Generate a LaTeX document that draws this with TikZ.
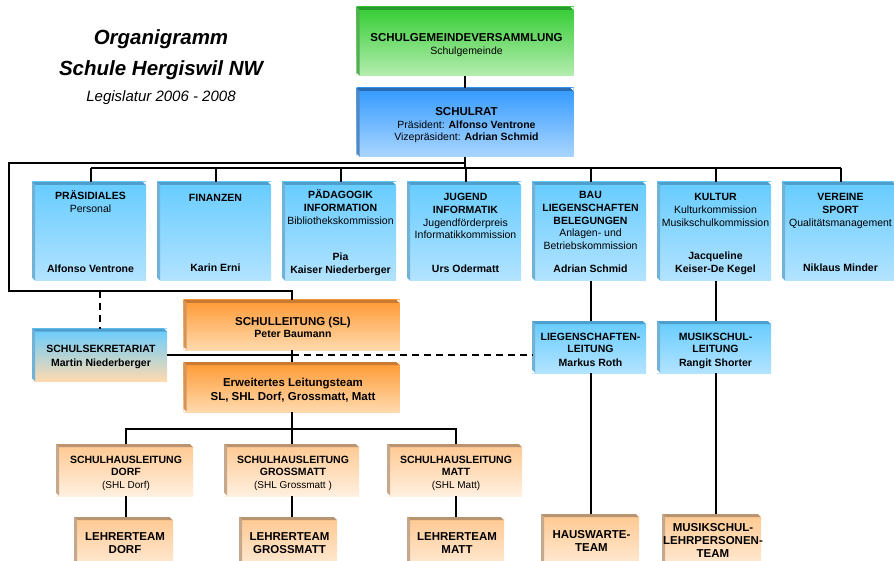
\documentclass[tikz,border=0pt]{standalone}
\usepackage{fontspec}
\setmainfont{Liberation Sans}
\usetikzlibrary{calc}
\newcommand{\tl}[1]{\begin{tabular}[t]{@{}c@{}}#1\end{tabular}}
\newcommand{\fs}[2]{\fontsize{#1}{#2}\selectfont}
\definecolor{gTop}{HTML}{33CC33}
\definecolor{gBot}{HTML}{B5EDB0}
\definecolor{gBev}{HTML}{2A9A2A}
\definecolor{rTop}{HTML}{3399FF}
\definecolor{rBot}{HTML}{AAD6FF}
\definecolor{rBev}{HTML}{2A6AB0}
\definecolor{dTop}{HTML}{66CCFF}
\definecolor{dBot}{HTML}{B3E3FF}
\definecolor{dBev}{HTML}{4F9FCC}
\definecolor{oTop}{HTML}{FF9933}
\definecolor{oBot}{HTML}{FFDAAE}
\definecolor{oBev}{HTML}{C97B33}
\definecolor{pTop}{HTML}{FFC890}
\definecolor{pBot}{HTML}{FFF0E0}
\definecolor{pBev}{HTML}{B89470}
\begin{document}
\begin{tikzpicture}[x=1pt,y=-1pt,
  boxbase/.style={inner sep=0pt,outer sep=0pt},
  greenbox/.style={boxbase,top color=gTop,bottom color=gBot},
  ratbox/.style={boxbase,top color=rTop,bottom color=rBot},
  deptbox/.style={boxbase,top color=dTop,bottom color=dBot,minimum width=114pt},
  orangebox/.style={boxbase,top color=oTop,bottom color=oBot},
  peachbox/.style={boxbase,top color=pTop,bottom color=pBot},
  sekbox/.style={boxbase,top color=dTop,bottom color=oBot},
  tx/.style={anchor=base,inner sep=0pt,font=\fs{10.5}{12.6}},
  txl/.style={anchor=base,inner sep=0pt,font=\fs{11.5}{13}\bfseries},
  ln/.style={line width=2pt},
  dsh/.style={line width=2pt,dash pattern=on 7pt off 5pt}
]
\useasboundingbox (0,0) rectangle (894,561);
\clip (0,0) rectangle (894,561);

% title
\node[anchor=base,inner sep=0pt,font=\fs{20.5}{24}\bfseries\itshape] (t1) at (161,45) {Organigramm};
\node[anchor=base,inner sep=0pt,font=\fs{20.5}{24}\bfseries\itshape] (t2) at (161,76) {Schule Hergiswil NW};
\node[anchor=base,inner sep=0pt,font=\fs{15}{18}\itshape] (t3) at (161,102) {Legislatur 2006 - 2008};

% boxes
\node[greenbox,minimum width=217pt,minimum height=69pt] (sgv) at (465,41.5) {};
\node[ratbox,minimum width=217pt,minimum height=69pt] (rat) at (465,122.5) {};
\node[deptbox,minimum height=99pt] (pra) at (89,231.5) {};
\node[deptbox,minimum height=99pt] (fin) at (214,231.5) {};
\node[deptbox,minimum height=99pt] (pad) at (339,231.5) {};
\node[deptbox,minimum height=99pt] (jug) at (464,231.5) {};
\node[deptbox,minimum height=99pt] (bau) at (589,231.5) {};
\node[deptbox,minimum height=99pt] (kul) at (714,231.5) {};
\node[deptbox,minimum height=99pt] (ver) at (839,231.5) {};
\node[orangebox,minimum width=216pt,minimum height=50pt] (sl) at (291.5,325) {};
\node[orangebox,minimum width=216pt,minimum height=50pt] (erw) at (291.5,387) {};
\node[sekbox,minimum width=135pt,minimum height=53pt] (sek) at (99.5,355) {};
\node[deptbox,minimum height=52pt] (lieg) at (589,347) {};
\node[deptbox,minimum height=52pt] (msl) at (714,347) {};
\node[peachbox,minimum width=137pt,minimum height=52pt] (shld) at (124.5,470) {};
\node[peachbox,minimum width=135pt,minimum height=52pt] (shlg) at (291.5,470) {};
\node[peachbox,minimum width=135pt,minimum height=52pt] (shlm) at (454.5,470) {};
\node[peachbox,minimum width=99pt,minimum height=58pt] (ltd) at (123.5,546) {};
\node[peachbox,minimum width=98pt,minimum height=58pt] (ltg) at (288,546) {};
\node[peachbox,minimum width=97pt,minimum height=58pt] (ltm) at (455.5,546) {};
\node[peachbox,minimum width=98pt,minimum height=61pt] (hwt) at (590,544.5) {};
\node[peachbox,minimum width=99pt,minimum height=61pt] (mlp) at (711.5,544.5) {};

% bevels
\foreach \n/\c in {sgv/gBev,rat/rBev,pra/dBev,fin/dBev,pad/dBev,jug/dBev,bau/dBev,kul/dBev,ver/dBev,sl/oBev,erw/oBev,sek/dBev,lieg/dBev,msl/dBev,shld/pBev,shlg/pBev,shlm/pBev,ltd/pBev,ltg/pBev,ltm/pBev,hwt/pBev,mlp/pBev}{
  \fill[\c] (\n.north west) -- ([xshift=-3pt]\n.north east) -- ([yshift=-3pt]\n.north east) -- ([xshift=3pt,yshift=-3pt]\n.north west) -- cycle;
  \fill[\c!80] (\n.north west) -- ([xshift=3pt,yshift=-3pt]\n.north west) -- ([xshift=3pt]\n.south west) -- ([yshift=3pt]\n.south west) -- cycle;
  \fill[white] (\n.north east) -- ([xshift=-3pt]\n.north east) -- ([yshift=-3pt]\n.north east) -- cycle;
  \fill[white] (\n.south west) -- ([xshift=3pt]\n.south west) -- ([yshift=3pt]\n.south west) -- cycle;
}

% connectors
\coordinate (c1) at (9,163);
\coordinate (c2) at (9,291);
\coordinate (bus) at (0,168);
\coordinate (bus2) at (0,429);
\draw[ln] (sgv.south) -- (rat.north);
\draw[ln] (rat.south) -- (rat.south |- bus);
\draw[ln] (rat.south |- c1) -- (c1) -- (c2) -| (sl.north);
\draw[ln] ([xshift=1.5pt]pra.north |- bus) -- ([xshift=1.5pt]ver.north |- bus);
\foreach \n in {pra,fin,pad,jug,bau,kul,ver}{
  \draw[ln] ([xshift=1.5pt]\n.north) -- ([xshift=1.5pt]\n.north |- bus);
}
\draw[dsh] (sek.north |- c2) -- (sek.north);
\draw[ln] (sek.east) -- (sek.east -| sl.south);
\draw[dsh] (sek.east -| sl.south) -- (lieg.west |- sek.east);
\draw[ln] (sl.south) -- (erw.north);
\draw[ln] (erw.south) -- (shlg.north);
\draw[ln] ([xshift=1.5pt]shld.north) -- ([xshift=1.5pt]shld.north |- bus2) -- ([xshift=1.5pt]shlm.north |- bus2) -- ([xshift=1.5pt]shlm.north);
\draw[ln] ([xshift=1.5pt]shld.south) -- ([xshift=1.5pt]shld.south |- ltd.north);
\draw[ln] (shlg.south) -- (shlg.south |- ltg.north);
\draw[ln] ([xshift=1.5pt]shlm.south) -- ([xshift=1.5pt]shlm.south |- ltm.north);
\coordinate (vb) at ([xshift=1.5pt]bau.south);
\coordinate (vk) at ([xshift=1.5pt]kul.south);
\draw[ln] (vb) -- (vb |- lieg.north);
\draw[ln] (vb |- lieg.south) -- (vb |- hwt.north);
\draw[ln] (vk) -- (vk |- msl.north);
\draw[ln] (vk |- msl.south) -- (vk |- mlp.north);

% texts
\node[tx,font=\fs{10.5}{12.2}] (tsgv) at ($(sgv.north)+(1.5,35)$) {\tl{{\fs{11.5}{12.2}\bfseries SCHULGEMEINDEVERSAMMLUNG}\\Schulgemeinde}};
\node[tx,font=\fs{10.5}{12.2}] (trat) at ($(rat.north)+(1.5,28)$) {\tl{{\fs{11.5}{12.2}\bfseries SCHULRAT}\\Präsident: \textbf{Alfonso Ventrone}\\Vizepräsident: \textbf{Adrian Schmid}}};

\node[tx] (tpra) at ($(pra.north)+(1.5,18)$) {\tl{\textbf{PRÄSIDIALES}\\Personal}};
\node[tx] (npra) at ($(pra.south)+(1.5,-8)$) {\tl{\textbf{Alfonso Ventrone}}};
\node[tx] (tfin) at ($(fin.north)+(1.5,20)$) {\tl{\textbf{FINANZEN}}};
\node[tx] (nfin) at ($(fin.south)+(1.5,-9)$) {\tl{\textbf{Karin Erni}}};
\node[tx] (tpad) at ($(pad.north)+(1.5,17)$) {\tl{\textbf{PÄDAGOGIK}\\\textbf{INFORMATION}\\Bibliothekskommission}};
\node[tx] (npad) at ($(pad.south)+(1.5,-20)$) {\tl{\textbf{Pia}\\\textbf{Kaiser Niederberger}}};
\node[tx] (tjug) at ($(jug.north)+(1.5,19)$) {\tl{\textbf{JUGEND}\\\textbf{INFORMATIK}\\Jugendförderpreis\\Informatikkommission}};
\node[tx] (njug) at ($(jug.south)+(1.5,-8)$) {\tl{\textbf{Urs Odermatt}}};
\node[tx] (tbau) at ($(bau.north)+(1.5,17)$) {\tl{\textbf{BAU}\\\textbf{LIEGENSCHAFTEN}\\\textbf{BELEGUNGEN}\\Anlagen- und\\Betriebskommission}};
\node[tx] (nbau) at ($(bau.south)+(1.5,-8)$) {\tl{\textbf{Adrian Schmid}}};
\node[tx] (tkul) at ($(kul.north)+(1.5,19)$) {\tl{\textbf{KULTUR}\\Kulturkommission\\Musikschulkommission}};
\node[tx] (nkul) at ($(kul.south)+(1.5,-21)$) {\tl{\textbf{Jacqueline}\\\textbf{Keiser-De Kegel}}};
\node[tx] (tver) at ($(ver.north)+(1.5,19)$) {\tl{\textbf{VEREINE}\\\textbf{SPORT}\\Qualitätsmanagement}};
\node[tx] (nver) at ($(ver.south)+(1.5,-9)$) {\tl{\textbf{Niklaus Minder}}};

\node[tx,font=\fs{10.5}{13}] (tsl) at ($(sl.north)+(1.5,25)$) {\tl{{\fs{11.5}{13}\bfseries SCHULLEITUNG (SL)}\\\textbf{Peter Baumann}}};
\node[tx,font=\fs{10.5}{14}\bfseries] (tsek) at ($(sek.north)+(1.5,23.5)$) {\tl{SCHULSEKRETARIAT\\Martin Niederberger}};
\node[txl,font=\fs{11.5}{14}\bfseries] (terw) at ($(erw.north)+(1.5,24)$) {\tl{Erweitertes Leitungsteam\\SL, SHL Dorf, Grossmatt, Matt}};
\node[tx,font=\fs{10.5}{13}\bfseries] (tlieg) at ($(lieg.north)+(1.5,19)$) {\tl{LIEGENSCHAFTEN-\\LEITUNG\\Markus Roth}};
\node[tx,font=\fs{10.5}{13}\bfseries] (tmsl) at ($(msl.north)+(1.5,19)$) {\tl{MUSIKSCHUL-\\LEITUNG\\Rangit Shorter}};

\node[tx,font=\fs{10.5}{12.5}] (tshld) at ($(shld.north)+(1.5,19)$) {\tl{\textbf{SCHULHAUSLEITUNG}\\\textbf{DORF}\\{\fs{10}{12}(SHL Dorf)}}};
\node[tx,font=\fs{10.5}{12.5}] (tshlg) at ($(shlg.north)+(1.5,19)$) {\tl{\textbf{SCHULHAUSLEITUNG}\\\textbf{GROSSMATT}\\{\fs{10}{12}(SHL Grossmatt )}}};
\node[tx,font=\fs{10.5}{12.5}] (tshlm) at ($(shlm.north)+(1.5,19)$) {\tl{\textbf{SCHULHAUSLEITUNG}\\\textbf{MATT}\\{\fs{10}{12}(SHL Matt)}}};
\node[txl] (tltd) at ($(ltd.north)+(1.5,23)$) {\tl{LEHRERTEAM\\DORF}};
\node[txl] (tltg) at ($(ltg.north)+(1.5,23)$) {\tl{LEHRERTEAM\\GROSSMATT}};
\node[txl] (tltm) at ($(ltm.north)+(1.5,23)$) {\tl{LEHRERTEAM\\MATT}};
\node[txl] (thwt) at ($(hwt.north)+(1.5,24)$) {\tl{HAUSWARTE-\\TEAM}};
\node[txl] (tmlp) at ($(mlp.north)+(1.5,17)$) {\tl{MUSIKSCHUL-\\LEHRPERSONEN-\\TEAM}};
\end{tikzpicture}
\end{document}
